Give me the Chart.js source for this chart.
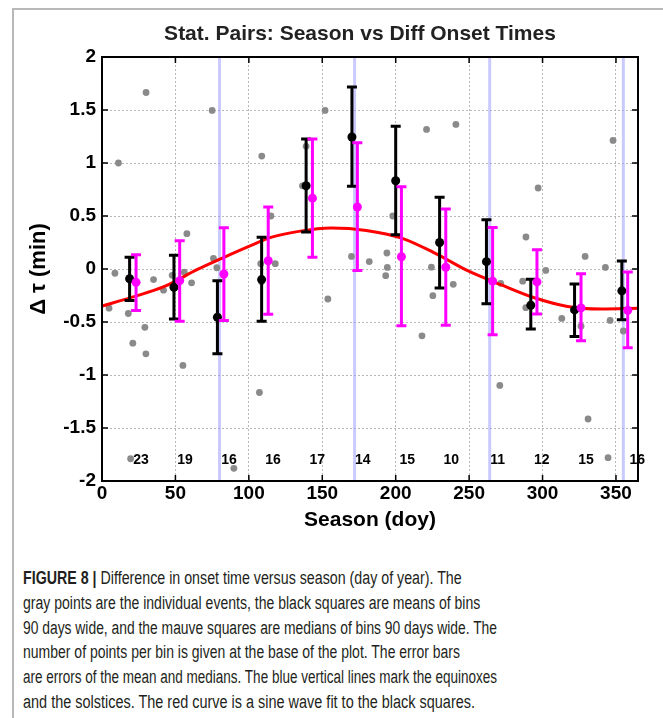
<!DOCTYPE html>
<html lang="en">
  <head>
    <title>Stat. Pairs: Season vs Diff Onset Times</title>
    <meta charset="UTF-8" />
    <script src="https://cdn.jsdelivr.net/npm/chart.js@4.4.1/dist/chart.umd.min.js"></script>
    <style>
      body {
        margin: 0;
        width: 663px;
        height: 718px;
        overflow: hidden;
        position: relative;
        background: #fff;
        font-family: 'Liberation Sans', Arial, sans-serif;
      }
      #frame {
        position: absolute;
        left: 12px;
        top: 8px;
        width: 700px;
        height: 720px;
        border-left: 2px solid #b8b8b8;
        border-top: 2px solid #b8b8b8;
      }
      #chart { position: absolute; left: 0; top: 0; }
      #caption {
        position: absolute;
        left: 23px;
        top: 566px;
        font-size: 18px;
        line-height: 24.8px;
        color: #231f20;
      }
      #caption div { white-space: nowrap; }
      #caption span { display: inline-block; transform-origin: 0 50%; }
    </style>
  </head>

  <body>
    <div id="frame"></div>
    <canvas id="chart" width="663" height="540"></canvas>
    <div id="caption">
      <div><span><b>FIGURE 8 |</b> Difference in onset time versus season (day of year). The</span></div>
      <div><span>gray points are the individual events, the black squares are means of bins</span></div>
      <div><span>90 days wide, and the mauve squares are medians of bins 90 days wide. The</span></div>
      <div><span>number of points per bin is given at the base of the plot. The error bars</span></div>
      <div><span>are errors of the mean and medians. The blue vertical lines mark the equinoxes</span></div>
      <div><span>and the solstices. The red curve is a sine wave fit to the black squares.</span></div>
    </div>

    <script>
      const xTicks = [0, 50, 100, 150, 200, 250, 300, 350]
      const yTicks = [-2, -1.5, -1, -0.5, 0, 0.5, 1, 1.5, 2]

      // equinoxes and solstices (doy)
      const seasonMarks = [80, 172, 264, 355]

      // individual events
      const eventDays = [4.8, 8.8, 11.2, 17.9, 19.5, 21, 29.2, 29.9, 30, 35.1, 41.9, 47.8, 55.1, 56, 57.8, 61, 75, 75.9, 78.2, 89.8,
        107.2, 108.1, 108.6, 108.8, 115, 118, 136.5, 139, 151.9, 153.8, 169.9, 182, 193.2, 194, 194.3, 198, 217.9, 221, 224.3, 225.3,
        239.2, 241, 270.9, 271.5, 286.5, 288.6, 288.7, 297, 302.2, 313.1, 326.2, 329, 331, 342.8, 344.6, 346, 348, 355]
      const eventDiffs = [-0.37, -0.04, 1.0, -0.42, -1.79, -0.7, -0.55, -0.8, 1.665, -0.1, -0.2, -0.06, -0.91, -0.03, 0.333, -0.13, 1.496, 0.1, 0.012, -1.88,
        -1.165, 0.05, -0.12, 1.065, 0.5, 0.05, 0.785, 1.157, 1.496, -0.283, 0.119, 0.07, -0.063, 0.151, 0.015, 0.5, -0.63, 1.317, 0.017, -0.252,
        -0.145, 1.364, -1.098, -0.135, -0.115, -0.365, 0.302, 0.764, -0.013, -0.466, -0.54, 0.119, -1.415, 0.015, -1.78, -0.485, 1.213, -0.585]

      // bin means (black) with errors
      const meanDays = [18.8, 49, 78.6, 108.7, 139, 170.2, 200, 229.9, 261.8, 292, 321.8, 354]
      const meanDiffs = [-0.092, -0.172, -0.455, -0.1, 0.785, 1.245, 0.833, 0.25, 0.069, -0.342, -0.386, -0.206]
      const meanLow = [-0.298, -0.472, -0.8, -0.492, 0.349, 0.78, 0.322, -0.18, -0.328, -0.566, -0.636, -0.479]
      const meanHigh = [0.112, 0.129, -0.11, 0.299, 1.227, 1.717, 1.347, 0.677, 0.465, -0.097, -0.142, 0.075]

      // bin medians (magenta) with errors
      const medianDays = [23.2, 52.9, 83, 113.2, 143.3, 173.9, 203.9, 234.1, 266, 296.2, 326.2, 358]
      const medianDiffs = [-0.126, -0.11, -0.047, 0.078, 0.668, 0.585, 0.116, 0.017, -0.115, -0.122, -0.367, -0.39]
      const medianLow = [-0.392, -0.492, -0.485, -0.428, 0.112, -0.015, -0.535, -0.53, -0.62, -0.425, -0.678, -0.743]
      const medianHigh = [0.135, 0.267, 0.388, 0.585, 1.227, 1.19, 0.775, 0.566, 0.391, 0.181, -0.044, -0.029]

      // points per bin
      const countDays = [26.5, 56.5, 86.5, 116.5, 146.6, 177.6, 207.9, 237.8, 269.4, 299.5, 329.6, 364.5]
      const counts = [23, 19, 16, 16, 17, 14, 15, 10, 11, 12, 15, 16]
      const countLevel = -1.8

      // sine fit
      const fitDays = [0, 20, 43, 65, 81, 100, 115, 134, 156, 180, 204, 227, 249, 272, 295, 317, 340, 365]
      const fitDiffs = [-0.35, -0.268, -0.162, -0.004, 0.097, 0.213, 0.298, 0.355, 0.387, 0.364, 0.292, 0.148, -0.016, -0.15, -0.274, -0.353, -0.377, -0.37]

      const captionWidths = [439, 457, 474, 437, 474, 452]
      document.querySelectorAll('#caption span').forEach((s, i) => {
        s.style.transform = 'scaleX(' + captionWidths[i] / s.offsetWidth + ')'
      })

      const pts = (xs, ys) => xs.map((x, i) => ({ x: x, y: ys[i] }))
      const font = (size) => ({ family: "'Liberation Sans', Arial", size: size, weight: 'bold' })

      const decorations = {
        id: 'decorations',
        beforeDatasetsDraw(chart) {
          const { ctx, chartArea: a, scales: { x } } = chart
          ctx.save()
          ctx.strokeStyle = 'rgba(150,150,255,0.5)'
          ctx.lineWidth = 3
          seasonMarks.forEach((d) => {
            const px = x.getPixelForValue(d)
            ctx.beginPath()
            ctx.moveTo(px, a.top)
            ctx.lineTo(px, a.bottom)
            ctx.stroke()
          })
          ctx.restore()
        },
        beforeDatasetDraw(chart, args) {
          const ds = chart.data.datasets[args.index]
          if (!ds.errLow) return
          const { ctx, scales: { x, y } } = chart
          ctx.save()
          ctx.strokeStyle = ds.backgroundColor
          ctx.lineWidth = 3
          ds.data.forEach((p, i) => {
            const px = x.getPixelForValue(p.x)
            const lo = y.getPixelForValue(ds.errLow[i])
            const hi = y.getPixelForValue(ds.errHigh[i])
            ctx.beginPath()
            ctx.moveTo(px, lo)
            ctx.lineTo(px, hi)
            ctx.moveTo(px - 5, lo)
            ctx.lineTo(px + 5, lo)
            ctx.moveTo(px - 5, hi)
            ctx.lineTo(px + 5, hi)
            ctx.stroke()
          })
          ctx.restore()
        },
        afterDatasetsDraw(chart) {
          const { ctx, chartArea: a, scales: { x, y } } = chart
          ctx.save()
          ctx.strokeStyle = '#000'
          ctx.lineWidth = 1.5
          ctx.beginPath()
          xTicks.forEach((v) => {
            const px = x.getPixelForValue(v)
            if (px <= a.left + 1) return
            ctx.moveTo(px, a.bottom)
            ctx.lineTo(px, a.bottom - 6)
            ctx.moveTo(px, a.top)
            ctx.lineTo(px, a.top + 6)
          })
          yTicks.forEach((v) => {
            const py = y.getPixelForValue(v)
            ctx.moveTo(a.left, py)
            ctx.lineTo(a.left + 6, py)
            ctx.moveTo(a.right, py)
            ctx.lineTo(a.right - 6, py)
          })
          ctx.stroke()
          ctx.lineWidth = 2
          ctx.strokeRect(a.left, a.top, a.right - a.left, a.bottom - a.top)

          ctx.fillStyle = '#000'
          ctx.textAlign = 'center'
          ctx.textBaseline = 'middle'
          ctx.font = "bold 14px 'Liberation Sans', Arial"
          counts.forEach((c, i) => {
            ctx.fillText(String(c), x.getPixelForValue(countDays[i]), y.getPixelForValue(countLevel))
          })

          ctx.fillStyle = '#222'
          ctx.font = "bold 21px 'Liberation Sans', Arial"
          ctx.fillText('Stat. Pairs: Season vs Diff Onset Times', 360, 34)
          ctx.restore()
        },
      }

      const ctx = document.getElementById('chart').getContext('2d')
      const chart = new Chart(ctx, {
        type: 'scatter',
        data: {
          datasets: [
            {
              data: pts(medianDays, medianDiffs),
              errLow: medianLow,
              errHigh: medianHigh,
              backgroundColor: '#ff00ff',
              borderWidth: 0,
              pointRadius: 4.5,
              order: 1,
            },
            {
              data: pts(meanDays, meanDiffs),
              errLow: meanLow,
              errHigh: meanHigh,
              backgroundColor: '#000000',
              borderWidth: 0,
              pointRadius: 4.5,
              order: 2,
            },
            {
              type: 'line',
              data: pts(fitDays, fitDiffs),
              borderColor: '#ff0000',
              borderWidth: 3,
              pointRadius: 0,
              fill: false,
              cubicInterpolationMode: 'monotone',
              order: 3,
            },
            {
              data: pts(eventDays, eventDiffs),
              backgroundColor: '#8a8a8a',
              borderWidth: 0,
              pointRadius: 3.4,
              order: 4,
            },
          ],
        },
        options: {
          responsive: false,
          animation: false,
          devicePixelRatio: 1,
          layout: { padding: { left: 0, right: 25, top: 57, bottom: 0 } },
          scales: {
            x: {
              type: 'linear',
              min: 0,
              max: 365,
              afterBuildTicks: (s) => { s.ticks = xTicks.map((v) => ({ value: v })) },
              afterFit: (s) => { s.height = 59 },
              grid: { color: '#b8b8b8', lineWidth: 1, drawTicks: false },
              border: { display: false, dash: [2, 2] },
              ticks: { color: '#000', font: font(19), padding: 1, maxRotation: 0, autoSkip: false, callback: (v) => String(v) },
              title: { display: true, text: 'Season (doy)', color: '#000', font: font(21), padding: { top: 0, bottom: 7 } },
            },
            y: {
              type: 'linear',
              min: -2,
              max: 2,
              afterBuildTicks: (s) => { s.ticks = yTicks.map((v) => ({ value: v })) },
              afterFit: (s) => { s.width = 102 },
              grid: { color: '#b8b8b8', lineWidth: 1, drawTicks: false },
              border: { display: false, dash: [2, 2] },
              ticks: { color: '#000', font: font(19), padding: 6, autoSkip: false, callback: (v) => String(v) },
              title: { display: true, text: 'Δ τ (min)', color: '#000', font: font(22), padding: { top: 26, bottom: 0 } },
            },
          },
          plugins: {
            legend: { display: false },
            tooltip: { enabled: false },
          },
        },
        plugins: [decorations],
      })
    </script>
  </body>
</html>
